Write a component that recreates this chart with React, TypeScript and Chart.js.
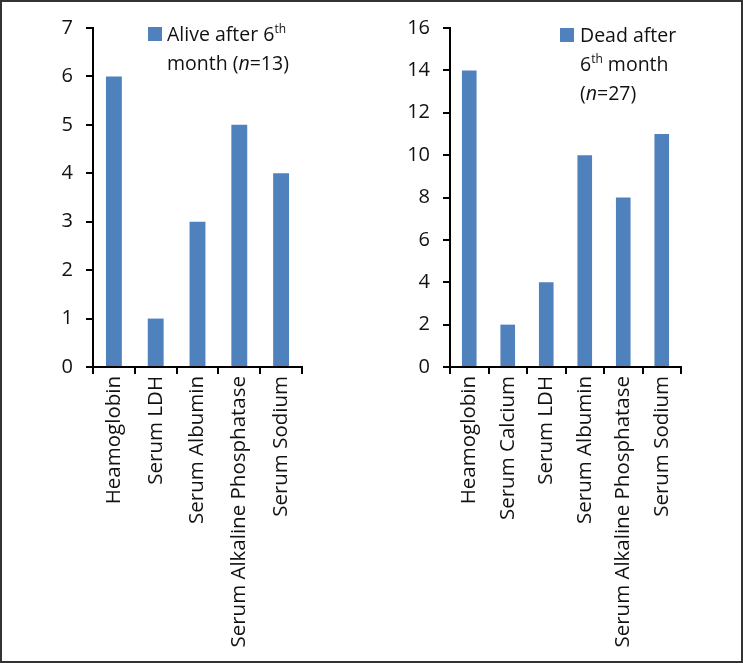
import React, { useEffect, useRef } from "react";
import { Chart, registerables } from "chart.js";

Chart.register(...registerables);

const aliveCategories = ["Heamoglobin", "Serum LDH", "Serum Albumin", "Serum Alkaline Phosphatase", "Serum Sodium"];
const aliveValues = [6, 1, 3, 5, 4];
const deadCategories = ["Heamoglobin", "Serum Calcium", "Serum LDH", "Serum Albumin", "Serum Alkaline Phosphatase", "Serum Sodium"];
const deadValues = [14, 2, 4, 10, 8, 11];

const BAR_COLOR = "#4F81BD";
const FONT = "'Open Sans', sans-serif";

function makeConfig(labels: string[], values: number[], yMax: number, step: number, yWidth: number, padRight: number, name: string): any {
  return {
    type: "bar",
    data: {
      labels,
      datasets: [
        {
          label: name,
          data: values,
          backgroundColor: BAR_COLOR,
          borderWidth: 0,
          barPercentage: 0.38,
          categoryPercentage: 1,
        },
      ],
    },
    options: {
      responsive: false,
      animation: false,
      maintainAspectRatio: false,
      layout: { padding: { top: 28, right: padRight, left: 0, bottom: 0 } },
      plugins: { legend: { display: false }, tooltip: { enabled: false } },
      scales: {
        x: {
          grid: { drawOnChartArea: false, drawTicks: true, tickLength: 7, color: "#000", lineWidth: 2, offset: true },
          border: { display: true, color: "#000", width: 2 },
          ticks: { color: "#111", font: { family: FONT, size: 20.5 }, minRotation: 90, maxRotation: 90, autoSkip: false, padding: 2 },
          afterFit: (s: any) => { s.height = 663 - 367; },
        },
        y: {
          min: 0,
          max: yMax,
          grid: { drawOnChartArea: false, drawTicks: true, tickLength: 7, color: "#000", lineWidth: 2 },
          border: { display: true, color: "#000", width: 2 },
          ticks: { stepSize: step, color: "#111", font: { family: FONT, size: 20 }, padding: 13 },
          afterFit: (s: any) => { s.width = yWidth; },
        },
      },
    },
  };
}

function BarChart(props: { cfg: any; left: number; width: number }) {
  const ref = useRef<HTMLCanvasElement>(null);
  useEffect(() => {
    const chart = new Chart(ref.current as HTMLCanvasElement, props.cfg);
    return () => chart.destroy();
  }, []);
  return (
    <canvas
      ref={ref}
      width={props.width}
      height={663}
      style={{ position: "absolute", left: props.left, top: 0, width: props.width, height: 663 }}
    />
  );
}

const legendText: React.CSSProperties = {
  position: "absolute",
  fontFamily: FONT,
  fontSize: 19.5,
  lineHeight: "29px",
  color: "#111",
  whiteSpace: "nowrap",
};
const swatch: React.CSSProperties = { position: "absolute", width: 14, height: 14, background: BAR_COLOR };
const supStyle: React.CSSProperties = { fontSize: 12, verticalAlign: "top", lineHeight: "20px" };

export default function App() {
  const aliveCfg = makeConfig(aliveCategories, aliveValues, 7, 1, 93, 68, "Alive after 6th month (n=13)");
  const deadCfg = makeConfig(deadCategories, deadValues, 16, 2, 80, 60, "Dead after 6th month (n=27)");
  return (
    <div style={{ position: "absolute", left: 0, top: 0, width: 743, height: 663, background: "#fff", overflow: "hidden" }}>
      <BarChart cfg={aliveCfg} left={0} width={370} />
      <BarChart cfg={deadCfg} left={370} width={371} />
      <div style={{ ...swatch, left: 148, top: 27 }} />
      <div style={{ ...legendText, left: 167, top: 19 }}>
        Alive after 6<sup style={supStyle}>th</sup>
        <br />
        month (<i>n</i>=13)
      </div>
      <div style={{ ...swatch, left: 560, top: 28 }} />
      <div style={{ ...legendText, left: 580, top: 20 }}>
        Dead after
        <br />
        6<sup style={supStyle}>th</sup> month
        <br />
        (<i>n</i>=27)
      </div>
      <div style={{ position: "absolute", left: 0, top: 0, width: 743, height: 663, border: "2px solid #333", boxSizing: "border-box", pointerEvents: "none" }} />
    </div>
  );
}
